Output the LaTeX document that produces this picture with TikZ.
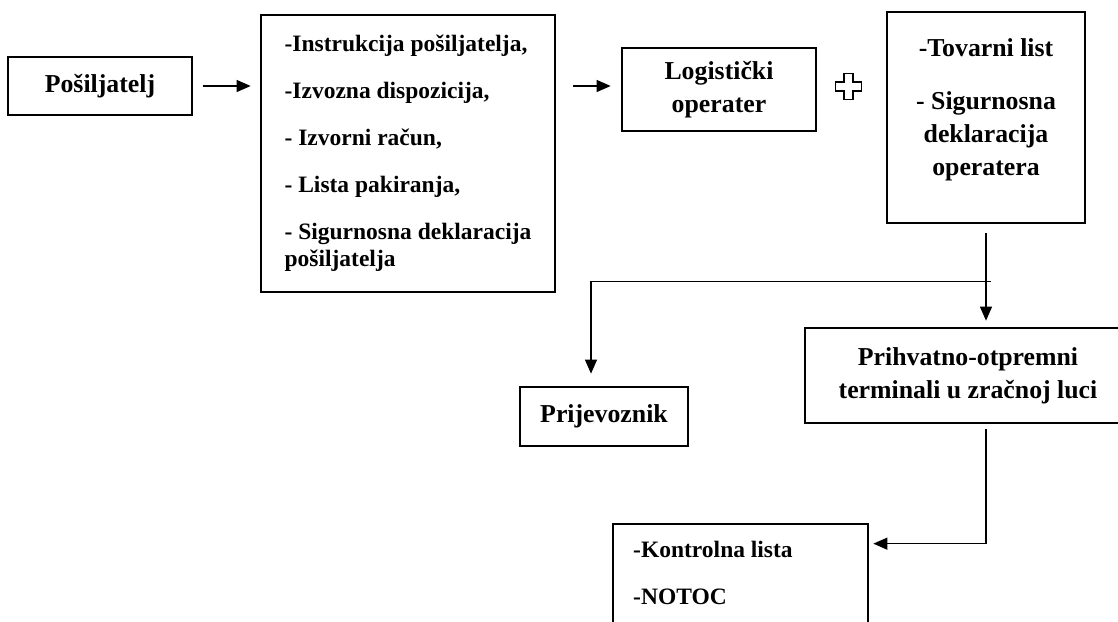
\documentclass[tikz,border=0pt]{standalone}
\usepackage{fontspec}
\setmainfont{Liberation Serif}
\usetikzlibrary{arrows.meta,calc}
\begin{document}
\begin{tikzpicture}[x=1pt,y=-1pt,
  big/.style={font=\fontsize{25.8}{33}\selectfont\bfseries},
  small/.style={font=\fontsize{23.5}{27}\selectfont\bfseries},
  box/.style={draw=black,line width=2.7pt,inner sep=0pt},
  conn/.style={draw=black,line width=1.2pt,-{Triangle[length=14pt,width=12pt]}},
  plain/.style={draw=black,line width=1.2pt}]
\useasboundingbox (0,0) rectangle (1118,621);
\clip (0,0) rectangle (1118,621);
\fill[white] (0,0) rectangle (1118,621);

% boxes
\node[box,big,minimum width=184pt,minimum height=58pt] (pos) at (100,86) {Pošiljatelj};
\node[box,small,align=left,minimum width=294pt,minimum height=277pt] (docs) at (408,153.5)
  {-Instrukcija pošiljatelja,\\[20pt]-Izvozna dispozicija,\\[20pt]- Izvorni račun,\\[20pt]- Lista pakiranja,\\[20pt]- Sigurnosna deklaracija\\pošiljatelja};
\node[box,big,align=center,minimum width=194pt,minimum height=83pt] (log) at (719,89.5) {Logistički\\operater};
\node[box,minimum width=198pt,minimum height=211pt] (tov) at (986,117.5) {};
\node[big,align=center,inner sep=0pt] (tovtxt) at (986,110) {-Tovarni list\\[20pt]- Sigurnosna\\deklaracija\\operatera};
\node[box,big,align=center,minimum width=326pt,minimum height=95pt] (prih) at (968,375.5) {Prihvatno-otpremni\\terminali u zračnoj luci};
\node[box,big,minimum width=168pt,minimum height=59pt] (prij) at (604,416.5) {Prijevoznik};
\node[box,minimum width=255pt,minimum height=176pt] (ctl) at (740.5,612) {};
\node[small,align=left,anchor=base west,inner sep=0pt] (ctltxt) at (633,604) {-Kontrolna lista\\[20pt]-NOTOC};

% plus sign
\draw[line width=1.6pt,line join=miter] (848.5,86.5) ++(-4.5,-13) -- ++(9,0) -- ++(0,8.5) -- ++(8.5,0) -- ++(0,9) -- ++(-8.5,0) -- ++(0,8.5) -- ++(-9,0) -- ++(0,-8.5) -- ++(-8.5,0) -- ++(0,-9) -- ++(8.5,0) -- cycle;

% connectors
\draw[conn,shorten <=10pt,shorten >=9pt] (pos.east) -- (docs.west |- pos.east);
\draw[conn,shorten <=17pt,shorten >=10pt] (docs.east |- pos.east) -- (log.west |- pos.east);
\draw[conn,shorten <=9pt,shorten >=6pt] (tov.south) -- (tov.south |- prih.north);
\coordinate (hr) at ($(tov.south)+(5,57)$);
\draw[conn,shorten >=12pt] (hr) -| ([xshift=-13pt]prij.north);
\draw[conn,shorten <=5pt,shorten >=4pt] (prih.south -| tov.south) |- ([yshift=-21pt]ctl.north east);
\end{tikzpicture}
\end{document}
